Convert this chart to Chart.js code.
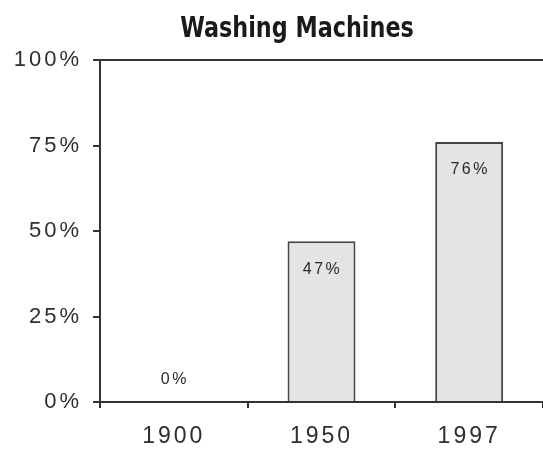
<!DOCTYPE html>
<html>
<head>
<meta charset="utf-8">
<script src="https://cdn.jsdelivr.net/npm/chart.js@4.4.0/dist/chart.umd.min.js"></script>
<style>
  html, body { margin: 0; padding: 0; background: #fff; }
  #wrap { width: 543px; height: 453px; }
</style>
</head>
<body>
<div id="wrap"><canvas id="chart"></canvas></div>
<script>
const titulo = "Washing Machines";
const anios = ["1900", "1950", "1997"];
const porcentajes = [0, 47, 76];
const ticksY = [0, 25, 50, 75, 100];

// espaciado de letras para imitar el texto ensanchado
const espaciado = {
  id: "espaciado",
  beforeLayout(chart) { chart.ctx.letterSpacing = "3px"; },
  beforeDraw(chart) { chart.ctx.letterSpacing = "3px"; }
};

// titulo y etiquetas de las barras
const etiquetas = {
  id: "etiquetas",
  afterDatasetsDraw(chart) {
    const ctx = chart.ctx;
    const meta = chart.getDatasetMeta(0);
    ctx.save();
    ctx.font = "16px 'Liberation Sans', Arial, sans-serif";
    ctx.letterSpacing = "2.5px";
    ctx.fillStyle = "#2a2a2a";
    ctx.textAlign = "center";
    ctx.textBaseline = "middle";
    meta.data.forEach((barra, i) => {
      const v = porcentajes[i];
      const y = v > 0 ? barra.y + 28 : barra.y - 22;
      ctx.fillText(v + "%", barra.x + 1, y);
    });
    ctx.restore();
  },
  afterDraw(chart) {
    const ctx = chart.ctx;
    ctx.save();
    ctx.letterSpacing = "0px";
    ctx.font = "bold 28px 'Liberation Sans Narrow', 'DejaVu Sans Condensed', Arial, sans-serif";
    ctx.fillStyle = "#1a1a1a";
    ctx.textAlign = "center";
    ctx.textBaseline = "middle";
    // el titulo original es mas estrecho
    ctx.translate(297, 30);
    ctx.scale(0.886, 1);
    ctx.fillText(titulo, 0, 0);
    ctx.restore();
  }
};

new Chart(document.getElementById("chart"), {
  type: "bar",
  data: {
    labels: anios,
    datasets: [{
      data: porcentajes,
      backgroundColor: "#e4e4e4",
      borderColor: "#444",
      borderWidth: 2,
      categoryPercentage: 1,
      barPercentage: 0.46
    }]
  },
  options: {
    responsive: true,
    maintainAspectRatio: false,
    animation: false,
    layout: { padding: { top: 60, left: 0, right: 0, bottom: 0 } },
    plugins: {
      legend: { display: false },
      title: { display: false },
      tooltip: { enabled: false }
    },
    scales: {
      x: {
        offset: true,
        grid: { offset: true, drawOnChartArea: false, drawTicks: true, tickLength: 6, color: "#333", lineWidth: 2 },
        border: { display: true, color: "#333", width: 2 },
        ticks: { padding: 15, color: "#2e2e2e", font: { size: 23, family: "'Liberation Sans', Arial, sans-serif" } },
        afterFit(scale) { scale.height = 51; }
      },
      x2: {
        type: "category",
        labels: anios,
        position: "top",
        grid: { display: false },
        ticks: { display: false },
        border: { display: true, color: "#333", width: 2 },
        afterFit(scale) { scale.height = 0; }
      },
      y: {
        min: 0,
        max: 100,
        afterBuildTicks(scale) { scale.ticks = ticksY.map(v => ({ value: v })); },
        grid: { drawOnChartArea: false, drawTicks: true, tickLength: 7, color: "#333", lineWidth: 2 },
        border: { display: true, color: "#333", width: 2 },
        ticks: {
          padding: 11,
          color: "#2e2e2e",
          font: { size: 22, family: "'Liberation Sans', Arial, sans-serif" },
          callback: v => v + "%"
        },
        afterFit(scale) { scale.width = 100; }
      }
    }
  },
  plugins: [espaciado, etiquetas]
});
</script>
</body>
</html>
